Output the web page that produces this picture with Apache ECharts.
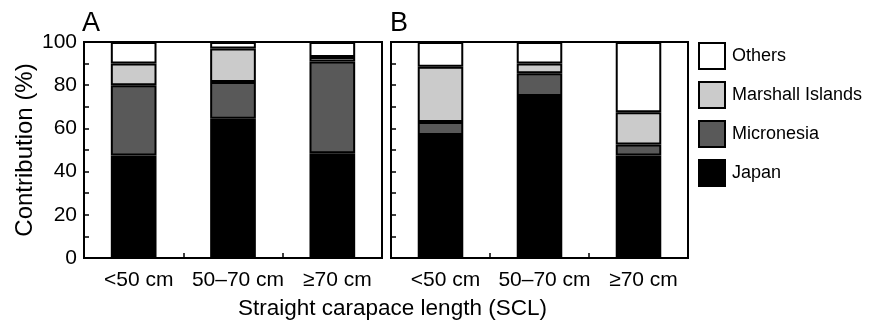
<!DOCTYPE html>
<html>
<head>
<meta charset="utf-8">
<script src="https://cdn.jsdelivr.net/npm/echarts@6/dist/echarts.min.js"></script>
<style>html,body{margin:0;padding:0;background:#fff;}#c{width:878px;height:324px;}</style>
</head>
<body>
<div id="c"></div>
<script>
const categories = ['<50 cm', '50\u201370 cm', '\u226570 cm'];
const seriesNames = ['Japan', 'Micronesia', 'Marshall Islands', 'Others'];
const legendOrder = ['Others', 'Marshall Islands', 'Micronesia', 'Japan'];
const yTicks = [0, 20, 40, 60, 80, 100];

// Panel A
const japanA = [47.5, 64.5, 48.5];
const micronesiaA = [32.5, 17, 42.5];
const marshallA = [10, 15.5, 2];
const othersA = [10, 3, 7];
// Panel B
const japanB = [57, 75, 47.5];
const micronesiaB = [6, 10.5, 5];
const marshallB = [25.5, 4.5, 15];
const othersB = [11.5, 10, 32.5];

const colors = {'Japan': '#000000', 'Micronesia': '#595959', 'Marshall Islands': '#cbcbcb', 'Others': '#ffffff'};
const FONT = 'Liberation Sans, Arial, Helvetica, sans-serif';

function xAxis(gi) {
  return {
    type: 'category', gridIndex: gi, data: categories,
    axisLine: {show: true, lineStyle: {color: '#000', width: 2}},
    axisTick: {show: true, inside: true, length: 5, interval: 0, alignWithLabel: false, lineStyle: {color: '#000', width: 1.5}},
    axisLabel: {show: true, interval: 0, color: '#000', fontSize: 21, margin: 12, fontFamily: FONT, padding: [0, 0, 0, 10]},
    splitLine: {show: false}
  };
}
function yAxis(gi, showLabels) {
  const a = {
    type: 'value', gridIndex: gi, min: yTicks[0], max: yTicks[yTicks.length - 1], interval: 20,
    axisLine: {show: true, lineStyle: {color: '#000', width: 2}},
    axisTick: {show: true, inside: true, length: 5, lineStyle: {color: '#000', width: 1.5}},
    minorTick: {show: true, splitNumber: 2, length: 5, lineStyle: {color: '#000', width: 1.5}},
    axisLabel: {show: showLabels, color: '#000', fontSize: 21, margin: 7, fontFamily: FONT},
    splitLine: {show: false}
  };
  if (showLabels) {
    a.name = 'Contribution (%)';
    a.nameLocation = 'middle';
    a.nameRotate = 90;
    a.nameGap = 47;
    a.nameTextStyle = {color: '#000', fontSize: 24, fontFamily: FONT};
  }
  return a;
}
function makeSeries(gi, stack, arrays) {
  return seriesNames.map((n, i) => ({
    name: n, type: 'bar', stack: stack, xAxisIndex: gi, yAxisIndex: gi,
    data: arrays[i], barWidth: '46%',
    itemStyle: {color: colors[n], borderColor: '#000', borderWidth: 2},
    emphasis: {disabled: true}
  }));
}

const chart = echarts.init(document.getElementById('c'), null, {renderer: 'canvas'});
chart.setOption({
  animation: false,
  textStyle: {fontFamily: FONT},
  title: [
    {text: 'A', left: 82, top: 10, padding: 0, textStyle: {fontSize: 27, fontWeight: 'normal', color: '#000', fontFamily: FONT}},
    {text: 'B', left: 390, top: 10, padding: 0, textStyle: {fontSize: 27, fontWeight: 'normal', color: '#000', fontFamily: FONT}},
    {text: 'Straight carapace length (SCL)', left: 238, top: 297, padding: 0, textStyle: {fontSize: 22.5, fontWeight: 'normal', color: '#000', fontFamily: FONT}}
  ],
  legend: {
    orient: 'vertical', left: 698, top: 42, padding: 0, itemWidth: 26, itemHeight: 26, itemGap: 11,
    data: legendOrder, selectedMode: false, icon: 'rect',
    itemStyle: {borderColor: '#000', borderWidth: 2},
    textStyle: {fontSize: 18, color: '#000', fontFamily: FONT, padding: [0, 0, 0, 2]}
  },
  grid: [
    {left: 84, top: 42, width: 298, height: 216, show: true, borderColor: '#000', borderWidth: 2, backgroundColor: 'transparent'},
    {left: 391, top: 42, width: 297, height: 216, show: true, borderColor: '#000', borderWidth: 2, backgroundColor: 'transparent'}
  ],
  xAxis: [xAxis(0), xAxis(1)],
  yAxis: [yAxis(0, true), yAxis(1, false)],
  series: [].concat(
    makeSeries(0, 'A', [japanA, micronesiaA, marshallA, othersA]),
    makeSeries(1, 'B', [japanB, micronesiaB, marshallB, othersB])
  )
});
</script>
</body>
</html>
